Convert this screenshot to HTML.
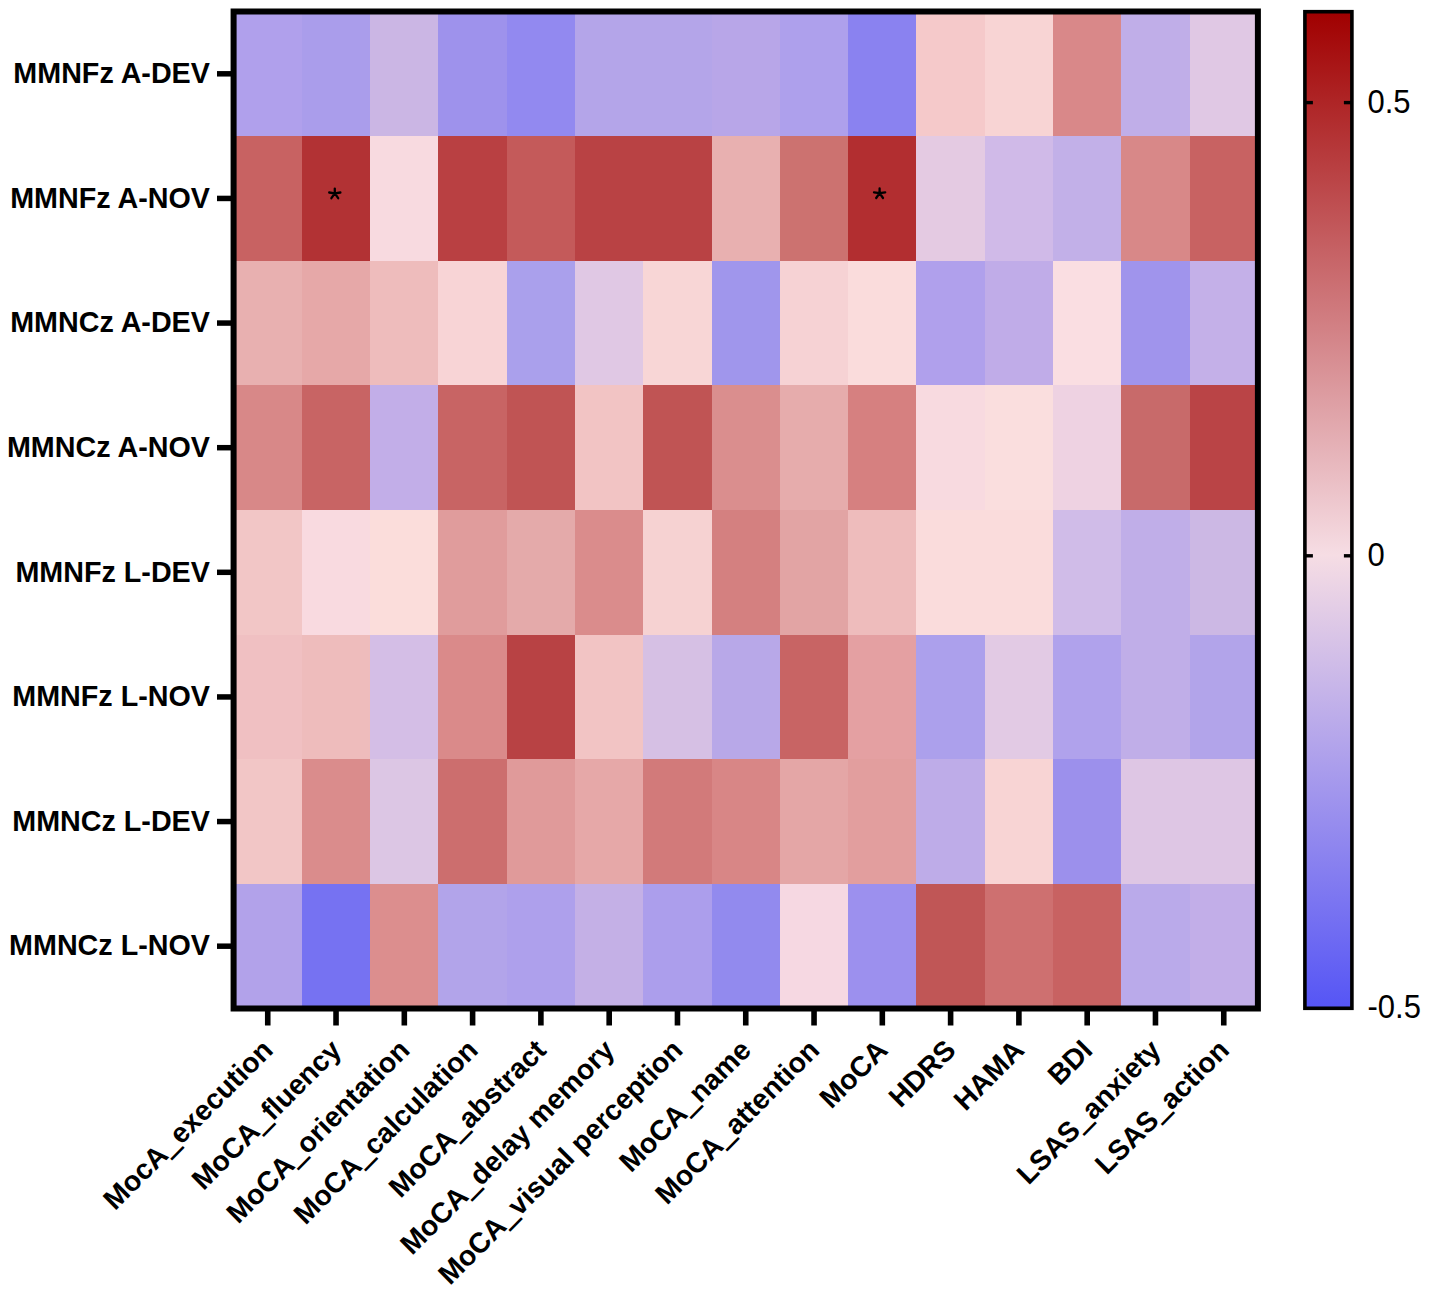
<!DOCTYPE html>
<html><head><meta charset="utf-8"><style>
html,body{margin:0;padding:0;background:#fff;}
svg{display:block;}
.lb{font-family:"Liberation Sans",sans-serif;font-weight:bold;font-size:28.7px;fill:#000;}
.xl{font-size:28.4px;}
.us{stroke:#000;stroke-width:1.4px;}
.ast{font-family:"Liberation Sans",sans-serif;font-weight:bold;font-size:30px;fill:#000;}
.cbl{font-family:"Liberation Sans",sans-serif;font-size:31px;fill:#000;}
</style></head><body>
<svg width="1429" height="1296" viewBox="0 0 1429 1296" shape-rendering="auto">
<rect width="1429" height="1296" fill="#fff"/>
<rect x="234" y="12" width="68" height="124" fill="#B0A0EC"/>
<rect x="302" y="12" width="68" height="124" fill="#AA9DEB"/>
<rect x="370" y="12" width="68" height="124" fill="#CBB6E4"/>
<rect x="438" y="12" width="69" height="124" fill="#9E92EC"/>
<rect x="507" y="12" width="68" height="124" fill="#9289F0"/>
<rect x="575" y="12" width="68" height="124" fill="#B4A5E9"/>
<rect x="643" y="12" width="69" height="124" fill="#B4A5E9"/>
<rect x="712" y="12" width="68" height="124" fill="#B8A6E8"/>
<rect x="780" y="12" width="68" height="124" fill="#AEA0EC"/>
<rect x="848" y="12" width="68" height="124" fill="#8A82F0"/>
<rect x="916" y="12" width="69" height="124" fill="#F5C9CA"/>
<rect x="985" y="12" width="68" height="124" fill="#F8D4D4"/>
<rect x="1053" y="12" width="68" height="124" fill="#D98889"/>
<rect x="1121" y="12" width="69" height="124" fill="#C0AEE8"/>
<rect x="1190" y="12" width="68" height="124" fill="#E0C8E4"/>
<rect x="234" y="136" width="68" height="125" fill="#C86262"/>
<rect x="302" y="136" width="68" height="125" fill="#B23234"/>
<rect x="370" y="136" width="68" height="125" fill="#F8DAE0"/>
<rect x="438" y="136" width="69" height="125" fill="#B94042"/>
<rect x="507" y="136" width="68" height="125" fill="#C45A5A"/>
<rect x="575" y="136" width="68" height="125" fill="#B94244"/>
<rect x="643" y="136" width="69" height="125" fill="#B94244"/>
<rect x="712" y="136" width="68" height="125" fill="#E8B0B0"/>
<rect x="780" y="136" width="68" height="125" fill="#CC7270"/>
<rect x="848" y="136" width="68" height="125" fill="#B22E30"/>
<rect x="916" y="136" width="69" height="125" fill="#E4CAE2"/>
<rect x="985" y="136" width="68" height="125" fill="#D0BAE8"/>
<rect x="1053" y="136" width="68" height="125" fill="#C2B0E8"/>
<rect x="1121" y="136" width="69" height="125" fill="#D88888"/>
<rect x="1190" y="136" width="68" height="125" fill="#C86262"/>
<rect x="234" y="261" width="68" height="124" fill="#E8B0B0"/>
<rect x="302" y="261" width="68" height="124" fill="#E6A8A8"/>
<rect x="370" y="261" width="68" height="124" fill="#EEBCBC"/>
<rect x="438" y="261" width="69" height="124" fill="#F8D4D6"/>
<rect x="507" y="261" width="68" height="124" fill="#AAA0EC"/>
<rect x="575" y="261" width="68" height="124" fill="#E0C8E4"/>
<rect x="643" y="261" width="69" height="124" fill="#F8D6D6"/>
<rect x="712" y="261" width="68" height="124" fill="#A096EC"/>
<rect x="780" y="261" width="68" height="124" fill="#F6D2D4"/>
<rect x="848" y="261" width="68" height="124" fill="#FADCDC"/>
<rect x="916" y="261" width="69" height="124" fill="#B0A0EC"/>
<rect x="985" y="261" width="68" height="124" fill="#C0ACE8"/>
<rect x="1053" y="261" width="68" height="124" fill="#FADEE2"/>
<rect x="1121" y="261" width="69" height="124" fill="#A094EC"/>
<rect x="1190" y="261" width="68" height="124" fill="#C4B0E8"/>
<rect x="234" y="385" width="68" height="125" fill="#D88888"/>
<rect x="302" y="385" width="68" height="125" fill="#C86464"/>
<rect x="370" y="385" width="68" height="125" fill="#C2AEE8"/>
<rect x="438" y="385" width="69" height="125" fill="#C86464"/>
<rect x="507" y="385" width="68" height="125" fill="#C05454"/>
<rect x="575" y="385" width="68" height="125" fill="#F2C4C4"/>
<rect x="643" y="385" width="69" height="125" fill="#C05454"/>
<rect x="712" y="385" width="68" height="125" fill="#DA8E8E"/>
<rect x="780" y="385" width="68" height="125" fill="#E6ACAC"/>
<rect x="848" y="385" width="68" height="125" fill="#D68080"/>
<rect x="916" y="385" width="69" height="125" fill="#F8DAE0"/>
<rect x="985" y="385" width="68" height="125" fill="#FADEDE"/>
<rect x="1053" y="385" width="68" height="125" fill="#EED2E2"/>
<rect x="1121" y="385" width="69" height="125" fill="#C86A6A"/>
<rect x="1190" y="385" width="68" height="125" fill="#BA4446"/>
<rect x="234" y="510" width="68" height="125" fill="#F2C6C6"/>
<rect x="302" y="510" width="68" height="125" fill="#F9DAE0"/>
<rect x="370" y="510" width="68" height="125" fill="#FBDDDB"/>
<rect x="438" y="510" width="69" height="125" fill="#E09C9C"/>
<rect x="507" y="510" width="68" height="125" fill="#E4AAAA"/>
<rect x="575" y="510" width="68" height="125" fill="#DA8C8C"/>
<rect x="643" y="510" width="69" height="125" fill="#F6D2D2"/>
<rect x="712" y="510" width="68" height="125" fill="#D48080"/>
<rect x="780" y="510" width="68" height="125" fill="#E2A4A4"/>
<rect x="848" y="510" width="68" height="125" fill="#EEBCBC"/>
<rect x="916" y="510" width="69" height="125" fill="#FADCDC"/>
<rect x="985" y="510" width="68" height="125" fill="#FADCDC"/>
<rect x="1053" y="510" width="68" height="125" fill="#D0BCE8"/>
<rect x="1121" y="510" width="69" height="125" fill="#C0AEE8"/>
<rect x="1190" y="510" width="68" height="125" fill="#CCB8E4"/>
<rect x="234" y="635" width="68" height="124" fill="#F0C0C2"/>
<rect x="302" y="635" width="68" height="124" fill="#EEBCBC"/>
<rect x="370" y="635" width="68" height="124" fill="#D4BEE6"/>
<rect x="438" y="635" width="69" height="124" fill="#DA8A8A"/>
<rect x="507" y="635" width="68" height="124" fill="#B84244"/>
<rect x="575" y="635" width="68" height="124" fill="#F2C4C4"/>
<rect x="643" y="635" width="69" height="124" fill="#D6C0E4"/>
<rect x="712" y="635" width="68" height="124" fill="#B8A8E8"/>
<rect x="780" y="635" width="68" height="124" fill="#C86464"/>
<rect x="848" y="635" width="68" height="124" fill="#E4A0A2"/>
<rect x="916" y="635" width="69" height="124" fill="#ACA0EC"/>
<rect x="985" y="635" width="68" height="124" fill="#E2CAE4"/>
<rect x="1053" y="635" width="68" height="124" fill="#B0A2EC"/>
<rect x="1121" y="635" width="69" height="124" fill="#C0AEE8"/>
<rect x="1190" y="635" width="68" height="124" fill="#B2A4EA"/>
<rect x="234" y="759" width="68" height="125" fill="#F2C6C6"/>
<rect x="302" y="759" width="68" height="125" fill="#DA8C8C"/>
<rect x="370" y="759" width="68" height="125" fill="#DCC6E4"/>
<rect x="438" y="759" width="69" height="125" fill="#CC6E6E"/>
<rect x="507" y="759" width="68" height="125" fill="#E09A9A"/>
<rect x="575" y="759" width="68" height="125" fill="#E6A8A8"/>
<rect x="643" y="759" width="69" height="125" fill="#D27A7A"/>
<rect x="712" y="759" width="68" height="125" fill="#D88686"/>
<rect x="780" y="759" width="68" height="125" fill="#E4A6A6"/>
<rect x="848" y="759" width="68" height="125" fill="#E29E9E"/>
<rect x="916" y="759" width="69" height="125" fill="#BEACE8"/>
<rect x="985" y="759" width="68" height="125" fill="#F8D4D4"/>
<rect x="1053" y="759" width="68" height="125" fill="#9C90EC"/>
<rect x="1121" y="759" width="69" height="125" fill="#DEC6E4"/>
<rect x="1190" y="759" width="68" height="125" fill="#DEC6E4"/>
<rect x="234" y="884" width="68" height="124" fill="#B2A2EA"/>
<rect x="302" y="884" width="68" height="124" fill="#7672F2"/>
<rect x="370" y="884" width="68" height="124" fill="#DC8E8E"/>
<rect x="438" y="884" width="69" height="124" fill="#B2A4EA"/>
<rect x="507" y="884" width="68" height="124" fill="#AEA0EC"/>
<rect x="575" y="884" width="68" height="124" fill="#C4B0E6"/>
<rect x="643" y="884" width="69" height="124" fill="#AC9EEC"/>
<rect x="712" y="884" width="68" height="124" fill="#928AEE"/>
<rect x="780" y="884" width="68" height="124" fill="#F6D8E2"/>
<rect x="848" y="884" width="68" height="124" fill="#9C90EE"/>
<rect x="916" y="884" width="69" height="124" fill="#C05656"/>
<rect x="985" y="884" width="68" height="124" fill="#CE7070"/>
<rect x="1053" y="884" width="68" height="124" fill="#C86262"/>
<rect x="1121" y="884" width="69" height="124" fill="#BAAAEA"/>
<rect x="1190" y="884" width="68" height="124" fill="#C2AEE8"/>
<rect x="233.60" y="11.50" width="1024.30" height="997.00" fill="none" stroke="#000" stroke-width="6"/>
<line x1="217" y1="73.81" x2="232" y2="73.81" stroke="#000" stroke-width="5.5"/>
<text x="209.9" y="83.01" text-anchor="end" class="lb">MMNFz A-DEV</text>
<line x1="217" y1="198.44" x2="232" y2="198.44" stroke="#000" stroke-width="5.5"/>
<text x="209.9" y="207.64" text-anchor="end" class="lb">MMNFz A-NOV</text>
<line x1="217" y1="323.06" x2="232" y2="323.06" stroke="#000" stroke-width="5.5"/>
<text x="209.9" y="332.26" text-anchor="end" class="lb">MMNCz A-DEV</text>
<line x1="217" y1="447.69" x2="232" y2="447.69" stroke="#000" stroke-width="5.5"/>
<text x="209.9" y="456.89" text-anchor="end" class="lb">MMNCz A-NOV</text>
<line x1="217" y1="572.31" x2="232" y2="572.31" stroke="#000" stroke-width="5.5"/>
<text x="209.9" y="581.51" text-anchor="end" class="lb">MMNFz L-DEV</text>
<line x1="217" y1="696.94" x2="232" y2="696.94" stroke="#000" stroke-width="5.5"/>
<text x="209.9" y="706.14" text-anchor="end" class="lb">MMNFz L-NOV</text>
<line x1="217" y1="821.56" x2="232" y2="821.56" stroke="#000" stroke-width="5.5"/>
<text x="209.9" y="830.76" text-anchor="end" class="lb">MMNCz L-DEV</text>
<line x1="217" y1="946.19" x2="232" y2="946.19" stroke="#000" stroke-width="5.5"/>
<text x="209.9" y="955.39" text-anchor="end" class="lb">MMNCz L-NOV</text>
<line x1="267.74" y1="1010" x2="267.74" y2="1025.5" stroke="#000" stroke-width="5.6"/>
<text x="0" y="0" text-anchor="end" class="lb xl" transform="translate(274.64,1051.80) rotate(-45)">MocA<tspan class="us">_</tspan>execution</text>
<line x1="336.03" y1="1010" x2="336.03" y2="1025.5" stroke="#000" stroke-width="5.6"/>
<text x="0" y="0" text-anchor="end" class="lb xl" transform="translate(342.93,1051.80) rotate(-45)">MoCA<tspan class="us">_</tspan>fluency</text>
<line x1="404.32" y1="1010" x2="404.32" y2="1025.5" stroke="#000" stroke-width="5.6"/>
<text x="0" y="0" text-anchor="end" class="lb xl" transform="translate(411.22,1051.80) rotate(-45)">MoCA<tspan class="us">_</tspan>orientation</text>
<line x1="472.60" y1="1010" x2="472.60" y2="1025.5" stroke="#000" stroke-width="5.6"/>
<text x="0" y="0" text-anchor="end" class="lb xl" transform="translate(479.50,1051.80) rotate(-45)">MoCA<tspan class="us">_</tspan>calculation</text>
<line x1="540.89" y1="1010" x2="540.89" y2="1025.5" stroke="#000" stroke-width="5.6"/>
<text x="0" y="0" text-anchor="end" class="lb xl" transform="translate(547.79,1051.80) rotate(-45)">MoCA<tspan class="us">_</tspan>abstract</text>
<line x1="609.18" y1="1010" x2="609.18" y2="1025.5" stroke="#000" stroke-width="5.6"/>
<text x="0" y="0" text-anchor="end" class="lb xl" transform="translate(616.08,1051.80) rotate(-45)">MoCA<tspan class="us">_</tspan>delay memory</text>
<line x1="677.46" y1="1010" x2="677.46" y2="1025.5" stroke="#000" stroke-width="5.6"/>
<text x="0" y="0" text-anchor="end" class="lb xl" transform="translate(684.36,1051.80) rotate(-45)">MoCA<tspan class="us">_</tspan>visual perception</text>
<line x1="745.75" y1="1010" x2="745.75" y2="1025.5" stroke="#000" stroke-width="5.6"/>
<text x="0" y="0" text-anchor="end" class="lb xl" transform="translate(752.65,1051.80) rotate(-45)">MoCA<tspan class="us">_</tspan>name</text>
<line x1="814.04" y1="1010" x2="814.04" y2="1025.5" stroke="#000" stroke-width="5.6"/>
<text x="0" y="0" text-anchor="end" class="lb xl" transform="translate(820.94,1051.80) rotate(-45)">MoCA<tspan class="us">_</tspan>attention</text>
<line x1="882.32" y1="1010" x2="882.32" y2="1025.5" stroke="#000" stroke-width="5.6"/>
<text x="0" y="0" text-anchor="end" class="lb xl" transform="translate(889.22,1051.80) rotate(-45)">MoCA</text>
<line x1="950.61" y1="1010" x2="950.61" y2="1025.5" stroke="#000" stroke-width="5.6"/>
<text x="0" y="0" text-anchor="end" class="lb xl" transform="translate(957.51,1051.80) rotate(-45)">HDRS</text>
<line x1="1018.90" y1="1010" x2="1018.90" y2="1025.5" stroke="#000" stroke-width="5.6"/>
<text x="0" y="0" text-anchor="end" class="lb xl" transform="translate(1025.80,1051.80) rotate(-45)">HAMA</text>
<line x1="1087.18" y1="1010" x2="1087.18" y2="1025.5" stroke="#000" stroke-width="5.6"/>
<text x="0" y="0" text-anchor="end" class="lb xl" transform="translate(1094.08,1051.80) rotate(-45)">BDI</text>
<line x1="1155.47" y1="1010" x2="1155.47" y2="1025.5" stroke="#000" stroke-width="5.6"/>
<text x="0" y="0" text-anchor="end" class="lb xl" transform="translate(1162.37,1051.80) rotate(-45)">LSAS<tspan class="us">_</tspan>anxiety</text>
<line x1="1223.76" y1="1010" x2="1223.76" y2="1025.5" stroke="#000" stroke-width="5.6"/>
<text x="0" y="0" text-anchor="end" class="lb xl" transform="translate(1230.66,1051.80) rotate(-45)">LSAS<tspan class="us">_</tspan>action</text>
<path transform="translate(334.8,193.4)" d="M0,0 L0,-4.8 M0,0 L5.6,-0.9 M0,0 L-5.6,-0.9 M0,0 L3.4,4.8 M0,0 L-3.4,4.8" stroke="#000" stroke-width="2.3" stroke-linecap="round" fill="none"/>
<path transform="translate(879.6,193.2)" d="M0,0 L0,-4.8 M0,0 L5.6,-0.9 M0,0 L-5.6,-0.9 M0,0 L3.4,4.8 M0,0 L-3.4,4.8" stroke="#000" stroke-width="2.3" stroke-linecap="round" fill="none"/>
<defs><linearGradient id="cb" x1="0" y1="1" x2="0" y2="0">
<stop offset="0" stop-color="#5555F5"/>
<stop offset="0.455" stop-color="#F6DDE4"/>
<stop offset="1" stop-color="#A00000"/>
</linearGradient></defs>
<rect x="1304.9" y="11.7" width="47.00" height="996.60" fill="url(#cb)" stroke="#000" stroke-width="3.6"/>
<line x1="1304.9" y1="102.6" x2="1312.9" y2="102.6" stroke="#000" stroke-width="3.4"/>
<line x1="1343.9" y1="102.6" x2="1351.9" y2="102.6" stroke="#000" stroke-width="3.4"/>
<text x="0" y="0" class="cbl" transform="translate(1367.5,112.5) scale(1,1.07)">0.5</text>
<line x1="1304.9" y1="555.8" x2="1312.9" y2="555.8" stroke="#000" stroke-width="3.4"/>
<line x1="1343.9" y1="555.8" x2="1351.9" y2="555.8" stroke="#000" stroke-width="3.4"/>
<text x="0" y="0" class="cbl" transform="translate(1367.5,565.8) scale(1,1.07)">0</text>
<text x="0" y="0" class="cbl" transform="translate(1367.5,1018.3) scale(1,1.07)">-0.5</text>
</svg>
</body></html>
